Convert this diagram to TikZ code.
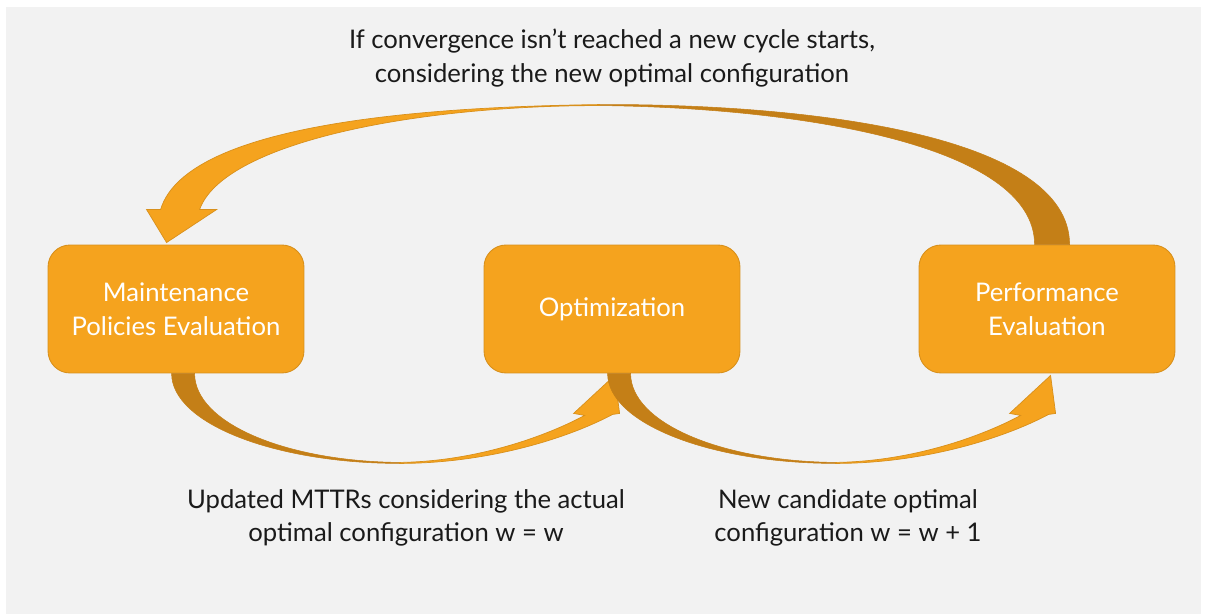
\documentclass[tikz,border=0pt]{standalone}
\usepackage{fontspec}
\setmainfont{Lato}

\definecolor{bggray}{HTML}{F2F2F2}
\definecolor{boxorange}{HTML}{F5A31E}
\definecolor{edgeorange}{HTML}{D8901C}
\definecolor{backorange}{HTML}{C47F17}
\definecolor{textgray}{HTML}{1A1A1A}

\begin{document}
\begin{tikzpicture}[x=0.02cm, y=-0.02cm]
	\tikzstyle{every node}=[align=center, inner sep=1pt, font=\fontsize{14.6}{19.2}\selectfont, text=textgray]
	\tikzstyle{stage}=[draw=edgeorange, fill=boxorange, line width=0.5pt, rounded corners=0.44cm, minimum width=5.12cm, minimum height=2.56cm, text=white]
	\tikzstyle{front}=[fill=boxorange, draw=edgeorange, line width=0.4pt]
	\tikzstyle{back}=[fill=backorange, draw=backorange, line width=0.3pt]

	\useasboundingbox (0,0) rectangle (1208,614);
	\fill[white] (0,0) rectangle (1208,614);
	\fill[bggray] (6,7) rectangle (1201,614);

	\node[stage] (mpe) at (176,309) {Maintenance\\Policies Evaluation};
	\node[stage] (opt) at (612,309) {Optimization};
	\node[stage] (pe) at (1047,309) {Performance\\Evaluation};

	\node (cycle) at (612,58) {If convergence isn’t reached a new cycle starts,\\considering the new optimal configuration};
	\node (mttr) at (406,518) {Updated MTTRs considering the actual\\optimal configuration w = w};
	\node (cand) at (848,518) {New candidate optimal\\configuration w = w + 1};

	% lower loops, from one stage to the next
	\foreach \b in {mpe, opt} {
		\begin{scope}[shift={(\b.south west)}]
			\filldraw[back] (124,0) .. controls (124,50) and (227,90) .. (352,90)
				-- (352,89) .. controls (239,88) and (147,50) .. (147,0) -- cycle;
			\filldraw[front] (352,90) .. controls (440,90) and (520,65) .. (565,41)
				-- (572,40) -- (567,2) -- (526,40) -- (537,42)
				.. controls (500,62) and (430,88) .. (352,89) -- cycle;
		\end{scope}
	}

	% back from performance to maintenance
	\begin{scope}[shift={(mpe.north west)}]
		\filldraw[back] (1022,0) .. controls (1022,-110) and (760,-141) .. (552,-140)
			-- (552,-139) .. controls (750,-137) and (987,-100) .. (987,0) -- cycle;
		\filldraw[front] (552,-140) .. controls (400,-138) and (140,-125) .. (113,-35)
			-- (99,-35) -- (119,-2) -- (169,-35) -- (152,-35)
			.. controls (175,-100) and (360,-139) .. (552,-139) -- cycle;
	\end{scope}
\end{tikzpicture}
\end{document}
